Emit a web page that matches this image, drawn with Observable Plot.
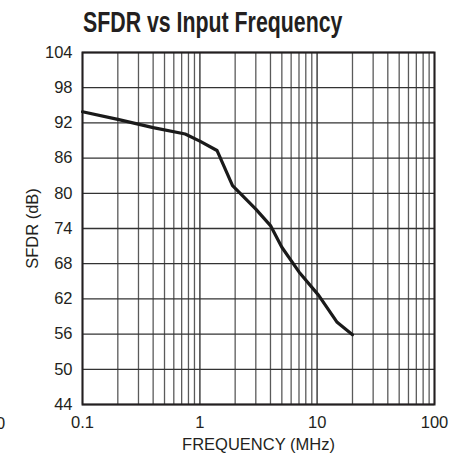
<!DOCTYPE html>
<html>
<head>
<meta charset="utf-8">
<script src="https://cdn.jsdelivr.net/npm/d3@7"></script>
<script src="https://cdn.jsdelivr.net/npm/@observablehq/plot@0.6"></script>
<style>
  html, body { margin: 0; padding: 0; background: #fff; }
  #wrap { position: relative; width: 463px; height: 462px; overflow: hidden; }
  #title { position: absolute; left: 83px; top: 6px; font-family: "Liberation Sans", Arial, sans-serif; font-weight: bold; font-size: 29px; color: #231f20; white-space: nowrap; transform: scaleX(0.735); transform-origin: left top; }
  #stray { position: absolute; left: -4px; top: 414px; font-family: "Liberation Sans", sans-serif; font-size: 16.5px; color: #231f20; }
</style>
</head>
<body>
<div id="wrap">
  <div id="chart"></div>
  <div id="title">SFDR vs Input Frequency</div>
  <div id="stray">0</div>
</div>
<script>
const freqMHz = [0.1, 0.2, 0.4, 0.75, 1.0, 1.4, 1.9, 3.0, 4.0, 5.0, 7.0, 10.3, 14.8, 20];
const sfdrDb  = [93.9, 92.6, 91.2, 90.1, 88.9, 87.3, 81.3, 77.3, 74.5, 70.8, 66.6, 62.6, 58.0, 55.9];

const yTicks = [44, 50, 56, 62, 68, 74, 80, 86, 92, 98, 104];
const xTicks = [0.1, 1, 10, 100];
const xGrid = [];
for (const d of [0.1, 1, 10]) for (let k = 1; k <= 10; k++) xGrid.push(+(d * k).toPrecision(3));

const data = freqMHz.map((f, i) => ({f, v: sfdrDb[i]}));
const ink = "#231f20";
const font = "'Liberation Sans', Arial, sans-serif";

const chart = Plot.plot({
  width: 463,
  height: 462,
  marginTop: 52,
  marginBottom: 58,
  marginLeft: 82,
  marginRight: 29,
  style: {fontFamily: font, fontSize: "16.5px", color: ink, background: "#fff"},
  x: {type: "log", domain: [0.1, 100]},
  y: {domain: [44, 104]},
  marks: [
    Plot.ruleX(xGrid, {stroke: "#5a5a5a", strokeWidth: 1.3}),
    Plot.ruleY(yTicks, {stroke: "#333", strokeWidth: 1.3}),
    Plot.axisX({ticks: xTicks, tickFormat: d => String(d), tickSize: 0, tickPadding: 12, label: "FREQUENCY (MHz)", labelAnchor: "center", labelArrow: "none", labelOffset: 45, fontSize: 16.5}),
    Plot.axisY({ticks: yTicks, tickSize: 0, tickPadding: 10, label: "SFDR (dB)", labelAnchor: "center", labelArrow: "none", labelOffset: 56, fontSize: 16.5}),
    Plot.frame({stroke: ink, strokeWidth: 2}),
    Plot.line(data, {x: "f", y: "v", stroke: "#1a1a1a", strokeWidth: 3.2})
  ]
});
document.getElementById("chart").appendChild(chart);
</script>
</body>
</html>
